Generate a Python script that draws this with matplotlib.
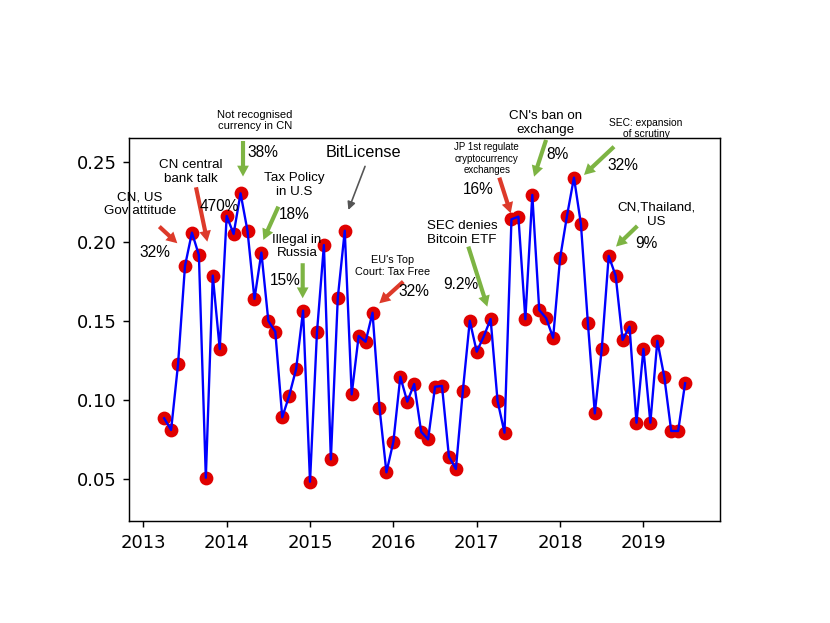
import matplotlib
matplotlib.use("Agg")
import matplotlib.pyplot as plt
import pandas as pd
import numpy as np

# ---- data ----
months = pd.date_range("2013-04-01", "2019-07-01", freq="MS")
values = [
    0.0885, 0.0811, 0.1226, 0.1846, 0.2056, 0.1915, 0.0510, 0.1785, 0.1322,
    0.2161, 0.2048, 0.2304, 0.2067, 0.1638, 0.1930, 0.1499, 0.1431, 0.0891, 0.1027, 0.1196, 0.1564,
    0.0485, 0.1427, 0.1978, 0.0626, 0.1646, 0.2068, 0.1036, 0.1404, 0.1368, 0.1551, 0.0952, 0.0544,
    0.0737, 0.1147, 0.0990, 0.1101, 0.0800, 0.0752, 0.1084, 0.1089, 0.0643, 0.0565, 0.1057, 0.1500,
    0.1305, 0.1400, 0.1511, 0.0994, 0.0794, 0.2140, 0.2157, 0.1510, 0.2294, 0.1568, 0.1516, 0.1393,
    0.1894, 0.2163, 0.2403, 0.2111, 0.1488, 0.0916, 0.1322, 0.1909, 0.1785, 0.1379, 0.1463, 0.0857,
    0.1322, 0.0857, 0.1373, 0.1147, 0.0805, 0.0805, 0.1106,
]
x = months.year + (months.month - 1) / 12.0
year_ticks = [2013, 2014, 2015, 2016, 2017, 2018, 2019]
year_labels = [str(y) for y in year_ticks]
yticks = [0.05, 0.10, 0.15, 0.20, 0.25]

RED = "#dd3a2a"
GREEN = "#7db443"
AFONT = ["Liberation Sans", "DejaVu Sans"]
LBL = 7.4
PCT = 8.6

fig = plt.figure(figsize=(830 / 130, 623 / 130), dpi=130)
ax = fig.add_axes([0.1558, 0.1637, 0.7113, 0.6143])

ax.scatter(x, values, s=44, color="#e00000", zorder=2)
ax.plot(x, values, color="blue", lw=1.3, zorder=3)

ax.set_xlim(2012.832, 2019.915)
ax.set_ylim(0.0237, 0.2651)
ax.set_xticks(year_ticks)
ax.set_xticklabels(year_labels)
ax.set_yticks(yticks)
ax.set_yticklabels([f"{v:.2f}" for v in yticks])
ax.tick_params(labelsize=10)


def arrow(tail, tip, color):
    ax.annotate("", xy=tip, xytext=tail,
                arrowprops=dict(facecolor=color, edgecolor="none", width=2.3,
                                headwidth=6.5, headlength=6, shrink=0),
                annotation_clip=False, zorder=4)


def label(pos, s, size=LBL):
    ax.text(pos[0], pos[1], s, ha="center", va="center", multialignment="center",
            fontsize=size, family=AFONT, zorder=5)


# CN, US Gov attitude
label((2012.960, 0.2234), "CN, US\nGov attitude")
arrow((2013.192, 0.2094), (2013.408, 0.1989), RED)
label((2013.140, 0.1932), "32%", PCT)
# CN central bank talk
label((2013.572, 0.2439), "CN central\nbank talk")
arrow((2013.632, 0.2342), (2013.768, 0.1999), RED)
label((2013.914, 0.2224), "470%", PCT)
# Not recognised currency in CN
label((2014.340, 0.2764), "Not recognised\ncurrency in CN", 6.2)
arrow((2014.196, 0.2634), (2014.196, 0.2410), GREEN)
label((2014.436, 0.2561), "38%", PCT)
# Tax Policy in U.S
label((2014.816, 0.2354), "Tax Policy\nin U.S")
arrow((2014.620, 0.2220), (2014.440, 0.2010), GREEN)
label((2014.814, 0.2168), "18%", PCT)
# Illegal in Russia
label((2014.844, 0.1968), "Illegal in\nRussia")
arrow((2014.912, 0.1863), (2014.912, 0.1642), GREEN)
label((2014.700, 0.1753), "15%", PCT)
# BitLicense
label((2015.644, 0.2563), "BitLicense", 9)
ax.annotate("", xy=(2015.460, 0.2199), xytext=(2015.660, 0.2474),
            arrowprops=dict(arrowstyle="-|>", color="#555555", lw=0.9,
                            mutation_scale=9, shrinkA=0, shrinkB=0),
            zorder=4)
# EU's Top Court
label((2015.996, 0.1844), "EU's Top\nCourt: Tax Free", 6.0)
arrow((2016.119, 0.1747), (2015.831, 0.1610), RED)
label((2016.248, 0.1684), "32%", PCT)
# SEC denies Bitcoin ETF
label((2016.824, 0.2052), "SEC denies\nBitcoin ETF")
arrow((2016.899, 0.1968), (2017.127, 0.1589), GREEN)
label((2016.806, 0.1732), "9.2%", PCT)
# JP 1st regulate
label((2017.120, 0.2523), "JP 1st regulate\ncryptocurrency\nexchanges", 5.4)
arrow((2017.271, 0.2403), (2017.408, 0.2178), RED)
label((2017.016, 0.2325), "16%", PCT)
# CN's ban on exchange
label((2017.820, 0.2749), "CN's ban on\nexchange")
arrow((2017.832, 0.2641), (2017.688, 0.2409), GREEN)
label((2017.969, 0.2550), "8%", PCT)
# SEC expansion of scrutiny
label((2019.031, 0.2712), "SEC: expansion\nof scrutiny", 5.7)
arrow((2018.647, 0.2598), (2018.287, 0.2420), GREEN)
label((2018.755, 0.2479), "32%", PCT)
# CN, Thailand, US
label((2019.151, 0.2169), "CN,Thailand,\nUS")
arrow((2018.927, 0.2098), (2018.671, 0.1968), GREEN)
label((2019.031, 0.1989), "9%", PCT)

fig.savefig("out.png", dpi=130)
